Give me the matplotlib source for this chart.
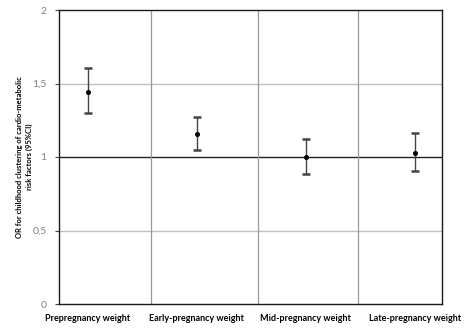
import numpy as np
import matplotlib.pyplot as plt

plt.rcParams['font.family'] = ['Lato', 'DejaVu Sans']

# odds ratios with 95% CI per weight period
periods = ["Prepregnancy weight", "Early-pregnancy weight",
           "Mid-pregnancy weight", "Late-pregnancy weight"]
odds_ratio = [1.44, 1.156, 0.998, 1.027]
ci_low = [1.297, 1.05, 0.886, 0.905]
ci_high = [1.605, 1.27, 1.12, 1.163]

y_ticks = [0, 0.5, 1, 1.5, 2]
y_tick_labels = ["0", "0,5", "1", "1,5", "2"]

fig = plt.figure(figsize=(4.67, 3.28), dpi=100)
ax = fig.add_axes([59 / 467, 1 - 304 / 328, 383 / 467, 294 / 328])

x = np.arange(len(periods))
or_arr = np.array(odds_ratio)
yerr = [or_arr - np.array(ci_low), np.array(ci_high) - or_arr]

# gridlines
for yv in [0.5, 1.5]:
    ax.axhline(yv, color='#c0c0c0', lw=1.0, zorder=1)
ax.axhline(1, color='#222222', lw=1.0, zorder=1)
for xv in [0.58, 1.56, 2.48]:
    ax.axvline(xv, color='#9a9a9a', lw=0.9, zorder=1)

ax.errorbar(x, or_arr, yerr=yerr, fmt='o', color='black', ms=2.6,
            ecolor='#444444', elinewidth=1.0, capsize=3.0, capthick=1.8,
            zorder=3)

ax.set_xlim(-0.266, 3.25)
ax.set_ylim(0, 2)
ax.set_yticks(y_ticks)
ax.set_yticklabels(y_tick_labels, color='#808080', fontsize=7.5)
ax.tick_params(axis='y', length=3, width=0.8, pad=6, color='#444444')

ax.set_xticks(x)
ax.set_xticklabels(periods, fontsize=6.5, fontweight='bold')
ax.tick_params(axis='x', length=0, pad=7)

for side in ['left', 'right', 'top', 'bottom']:
    ax.spines[side].set_color('#1a1a1a')
    ax.spines[side].set_linewidth(1.0)

ax.set_ylabel("OR for childhood clustering of cardio-metabolic\nrisk factors (95%CI)",
              fontsize=5.5, fontweight='bold', linespacing=1.5)
ax.yaxis.set_label_coords(-0.068, 0.5)

fig.savefig("out.png", dpi=100)
